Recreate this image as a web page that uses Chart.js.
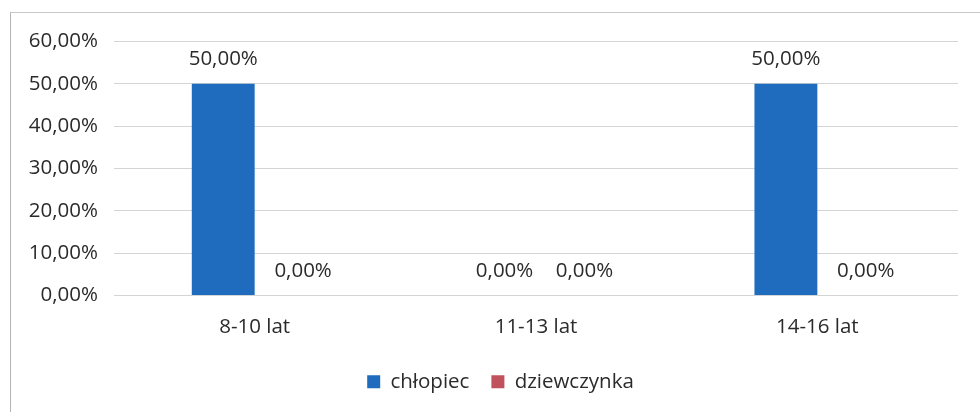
<!DOCTYPE html>
<html lang="pl">
<head>
<meta charset="UTF-8">
<title>Wiek i płeć</title>
<style>
  body { margin: 0; background: #fff; }
  #box {
    position: absolute; left: 10px; top: 12px;
    width: 970px; height: 400px;
    border-left: 1px solid #b5b5b5; border-top: 1px solid #c8c8c8;
  }
</style>
</head>
<body>
<div id="box"><canvas id="chart" width="969" height="399"></canvas></div>

<script src="https://cdn.jsdelivr.net/npm/chart.js"></script>
<script>
// dane z wykresu
const categories = ['8-10 lat', '11-13 lat', '14-16 lat'];
const seriesNames = ['chłopiec', 'dziewczynka'];
const chlopiec = [0.5, 0, 0.5];
const dziewczynka = [0, 0, 0];
const yTicks = [0, 0.1, 0.2, 0.3, 0.4, 0.5, 0.6];

const FONT = '"Open Sans", sans-serif';
const FSIZE = 20.5;
const TEXT = '#2b2b2b';

function pct(v) {
    return (v * 100).toFixed(2).replace('.', ',') + '%';
}

// etykiety danych nad słupkami
const valueLabels = {
    id: 'valueLabels',
    afterDatasetsDraw(chart) {
        const ctx = chart.ctx;
        ctx.save();
        ctx.font = FSIZE + 'px ' + FONT;
        ctx.fillStyle = TEXT;
        ctx.textAlign = 'center';
        ctx.textBaseline = 'bottom';
        chart.data.datasets.forEach((ds, i) => {
            const meta = chart.getDatasetMeta(i);
            meta.data.forEach((bar, j) => {
                const dx = i === 1 ? 17 : 0;
                ctx.fillText(pct(ds.data[j]), bar.x + dx, bar.y - 14);
            });
        });
        ctx.restore();
    }
};

// legenda trochę w prawo, jak w oryginale
const legendShift = {
    id: 'legendShift',
    afterLayout(chart) {
        if (chart.legend) {
            chart.legend.left += 16;
            chart.legend.right += 16;
        }
    }
};

new Chart(document.getElementById('chart'), {
    type: 'bar',
    data: {
        labels: categories,
        datasets: [{
            label: seriesNames[0],
            data: chlopiec,
            backgroundColor: '#1f6bbd'
        }, {
            label: seriesNames[1],
            data: dziewczynka,
            backgroundColor: '#c0525e'
        }]
    },
    options: {
        responsive: false,
        animation: false,
        layout: { padding: { top: 26, right: 22, bottom: 10, left: 0 } },
        datasets: {
            bar: { categoryPercentage: 0.447, barPercentage: 1.0 }
        },
        scales: {
            x: {
                grid: { display: false },
                border: { display: false },
                ticks: { color: TEXT, font: { family: FONT, size: FSIZE }, padding: 11 },
                afterFit(scale) { scale.height = 54; }
            },
            y: {
                min: 0,
                max: 0.6,
                afterBuildTicks(scale) { scale.ticks = yTicks.map(v => ({ value: v })); },
                grid: { color: '#d4d4d4', drawTicks: false },
                border: { display: false },
                ticks: {
                    color: TEXT,
                    font: { family: FONT, size: FSIZE },
                    padding: 16,
                    callback: v => pct(v)
                },
                afterFit(scale) { scale.width = 103; }
            }
        },
        plugins: {
            legend: {
                position: 'bottom',
                labels: {
                    color: TEXT,
                    font: { family: FONT, size: FSIZE },
                    boxWidth: 13,
                    boxHeight: 13,
                    padding: 22
                }
            },
            tooltip: { enabled: false }
        }
    },
    plugins: [valueLabels, legendShift]
});
</script>
</body>
</html>
